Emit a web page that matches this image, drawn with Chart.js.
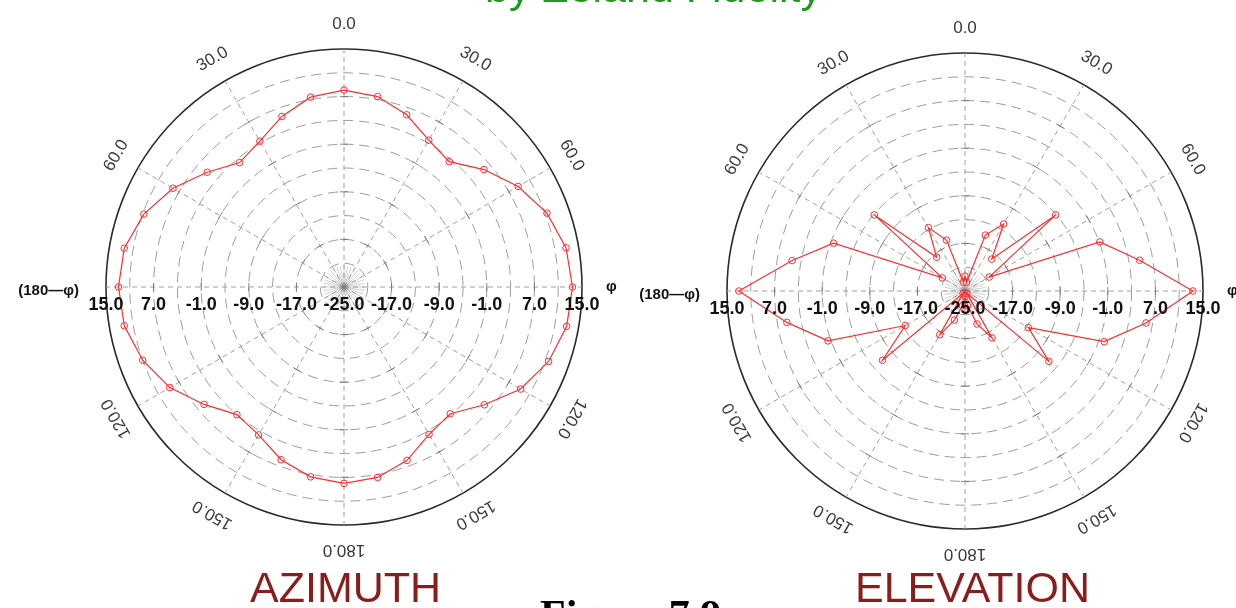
<!DOCTYPE html>
<html>
<head>
<meta charset="utf-8">
<script src="https://cdn.jsdelivr.net/npm/chart.js@4.4.1/dist/chart.umd.min.js"></script>
<style>
  html, body { margin: 0; padding: 0; background: #fff; }
  #page { position: relative; width: 1236px; height: 608px; overflow: hidden; background: #fff; }
  canvas { position: absolute; top: 0; }
  .txt { position: absolute; white-space: nowrap; font-family: "Liberation Sans", Arial, sans-serif; }
</style>
</head>
<body>
<div id="page">
  <canvas id="azimuth" width="618" height="608" style="left:0"></canvas>
  <canvas id="elevation" width="618" height="608" style="left:618px"></canvas>
  <div class="txt" style="left:485px; top:-37px; font-size:43px; color:#1f9a1f;">by Zeland Fidelity</div>
  <div class="txt" style="left:250px; top:563px; font-size:43px; color:#8b1c1c;">AZIMUTH</div>
  <div class="txt" style="left:855px; top:563px; font-size:43px; color:#8b1c1c;">ELEVATION</div>
  <div class="txt" style="left:540px; top:591px; font-size:42px; font-weight:bold; font-family:'Liberation Serif', serif; color:#000;">Figure 7.9</div>
</div>
<script>
// angles every 10 deg, clockwise from top
var angleLabels = ["0","10","20","30","40","50","60","70","80","90","100","110",
                   "120","130","140","150","160","170","180","190","200","210","220","230",
                   "240","250","260","270","280","290","300","310","320","330","340","350"];

// azimuth pattern (dB)
var azimuthGain = [8.1, 7.5, 5.8, 3.5, 2.5, 5.7, 8.8, 11.3, 12.9, 13.4, 13.0, 11.6,
                   9.3, 5.8, 2.8, 3.6, 6.0, 7.5, 8.0, 7.4, 5.9, 3.7, 3.0, 5.7,
                   8.8, 11.0, 12.5, 12.9, 12.5, 10.8, 8.2, 5.0, 2.3, 3.3, 5.5, 7.4];

// elevation pattern (dB)
var elevationGain = [-22.5, -23.5, -15.0, -12.0, -18.0, -5.1, -20.3, -0.9, 4.8, 13.3, 5.9, -0.1,
                     -12.7, -6.6, -24.5, -15.9, -19.1, -22.5, -24.0, -22.5, -19.8, -16.5, -24.5, -6.9,
                     -13.4, -0.5, 5.4, 13.0, 4.5, -1.5, -20.6, -5.1, -17.6, -12.7, -15.9, -23.5];

// tick text
var radialTicks = [15, 7, -1, -9, -17, -25];
var angleTickText = ["0.0", "30.0", "60.0", "\u03c6", "120.0", "150.0",
                     "180.0", "150.0", "120.0", "(180\u2014\u03c6)", "60.0", "30.0"];

var lineRed = "rgb(255,45,45)";

// draws rotated angle labels and the radial tick text along the horizontal axis
var polarText = {
    id: "polarText",
    beforeDatasetsDraw: function(chart) {
        var s = chart.scales.r;
        var ctx = chart.ctx;
        ctx.save();
        // little star of spokes at the centre
        ctx.strokeStyle = "rgba(120,120,120,0.45)";
        ctx.lineWidth = 0.8;
        var rs = s.getDistanceFromCenterForValue(-21.5);
        for (var i = 0; i < angleLabels.length; i++) {
            var p = s.getPointPosition(i, rs);
            ctx.beginPath();
            ctx.moveTo(s.xCenter, s.yCenter);
            ctx.lineTo(p.x, p.y);
            ctx.stroke();
        }
        // small cross ticks where the 30 deg spokes meet the rings
        ctx.strokeStyle = "rgba(110,110,110,0.8)";
        ctx.lineWidth = 1;
        for (var k = 0; k < angleLabels.length; k += 3) {
            var a = k * 10 * Math.PI / 180;
            var tx = Math.cos(a) * 4, ty = Math.sin(a) * 4;
            for (var v = -17; v < 15; v += 8) {
                var q = s.getPointPosition(k, s.getDistanceFromCenterForValue(v));
                ctx.beginPath();
                ctx.moveTo(q.x - tx, q.y - ty);
                ctx.lineTo(q.x + tx, q.y + ty);
                ctx.stroke();
            }
        }
        ctx.restore();
    },
    afterDraw: function(chart) {
        var s = chart.scales.r;
        var ctx = chart.ctx;
        ctx.save();
        ctx.textAlign = "center";
        ctx.textBaseline = "middle";
        for (var k = 0; k < angleTickText.length; k++) {
            var idx = k * 3;
            var txt = angleTickText[k];
            if (k === 3) {
                var p = s.getPointPosition(idx, s.drawingArea + 26);
                ctx.font = "bold 15px 'Liberation Sans', Arial";
                ctx.fillStyle = "#111";
                ctx.textAlign = "left";
                ctx.fillText(txt, p.x - 2, p.y);
                continue;
            }
            if (k === 9) {
                var p = s.getPointPosition(idx, s.drawingArea + 27);
                ctx.font = "bold 15px 'Liberation Sans', Arial";
                ctx.fillStyle = "#111";
                ctx.textAlign = "right";
                ctx.fillText(txt, p.x, p.y + 4);
                continue;
            }
            var pos = s.getPointPosition(idx, s.drawingArea + 25);
            ctx.save();
            ctx.translate(pos.x, pos.y);
            ctx.rotate(idx * 10 * Math.PI / 180);
            ctx.font = "17px 'Liberation Sans', Arial";
            ctx.fillStyle = "#3a3a3a";
            ctx.textAlign = "center";
            ctx.fillText(txt, 0, 0);
            ctx.restore();
        }
        // radial values along the horizontal line
        ctx.font = "bold 18px 'Liberation Sans', Arial";
        ctx.fillStyle = "#111";
        ctx.textAlign = "center";
        ctx.textBaseline = "middle";
        for (var j = 0; j < radialTicks.length; j++) {
            var v = radialTicks[j];
            var d = s.getDistanceFromCenterForValue(v);
            var lbl = v.toFixed(1);
            ctx.fillText(lbl, s.xCenter - d, s.yCenter + 18);
            if (d > 0) ctx.fillText(lbl, s.xCenter + d, s.yCenter + 18);
        }
        ctx.restore();
    }
};

function makePolar(id, values, pad) {
    var ctx = document.getElementById(id).getContext("2d");
    return new Chart(ctx, {
        type: "radar",
        data: {
            labels: angleLabels,
            datasets: [{
                data: values,
                borderColor: lineRed,
                borderWidth: 1.2,
                backgroundColor: "rgba(0,0,0,0)",
                fill: false,
                tension: 0,
                pointRadius: 3.3,
                pointBorderWidth: 1,
                pointBorderColor: lineRed,
                pointBackgroundColor: "rgba(255,255,255,0)"
            }]
        },
        options: {
            responsive: false,
            animation: false,
            layout: { padding: pad },
            plugins: { legend: { display: false }, tooltip: { enabled: false } },
            scales: {
                r: {
                    min: -25,
                    max: 15,
                    ticks: { stepSize: 4, display: false },
                    pointLabels: { display: false },
                    grid: {
                        circular: true,
                        color: function(c) { return c.tick && c.tick.value === 15 ? "#2a2a2a" : "#9c9c9c"; },
                        lineWidth: function(c) { return c.tick && c.tick.value === 15 ? 1.6 : 1; }
                    },
                    border: {
                        dash: function(c) { return c.tick && c.tick.value === 15 ? [] : [10, 6]; }
                    },
                    angleLines: {
                        display: true,
                        color: "#a0a0a0",
                        lineWidth: function(c) { return c.index % 3 === 0 ? 1 : 0; },
                        borderDash: [5, 4]
                    }
                }
            }
        },
        plugins: [polarText]
    });
}

var myChart1 = makePolar("azimuth", azimuthGain, { left: 106, right: 36, top: 49, bottom: 83 });
var myChart2 = makePolar("elevation", elevationGain, { left: 109, right: 33, top: 53, bottom: 79 });
</script>
</body>
</html>
